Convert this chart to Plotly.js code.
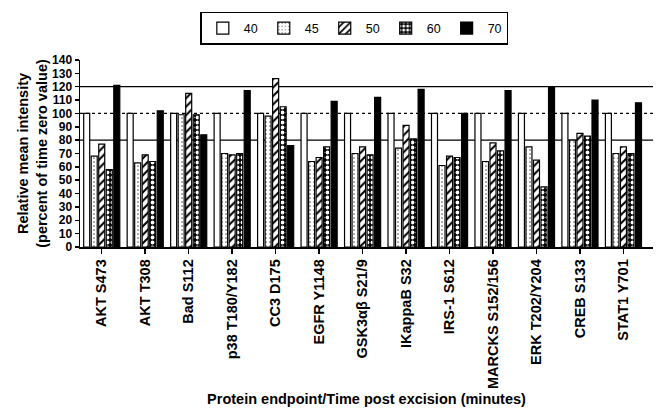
<!DOCTYPE html>
<html>
<head>
<meta charset="utf-8">
<script src="https://cdn.plot.ly/plotly-3.0.1.min.js"></script>
<style>html,body{margin:0;padding:0;background:#fff;}#chart{width:657px;height:413px;}</style>
</head>
<body>
<div id="chart"></div>
<script>
const categories = ["AKT S473","AKT T308","Bad S112","p38 T180/Y182","CC3 D175","EGFR Y1148","GSK3\u03b1\u03b2 S21/9","IKappaB S32","IRS-1 S612","MARCKS S152/156","ERK T202/Y204","CREB S133","STAT1 Y701"];
const seriesNames = ["40","45","50","60","70"];
const v40 = [100,100,100,100,100,100,100,100,100,100,100,100,100];
const v45 = [68,63,99,70,98,64,70,74,61,64,75,80,70];
const v50 = [77,69,115,69,126,67,75,91,68,78,65,85,75];
const v60 = [58,64,99,70,105,75,69,81,67,72,45,83,70];
const v70 = [121,102,84,117,76,109,112,118,100,117,120,110,108];
const refLines = [80,100,120];

const values = [v40,v45,v50,v60,v70];
const styles = [
  {color:"#ffffff", pattern:{shape:""}},
  {color:"#ffffff", pattern:{shape:".", fgcolor:"#666666", bgcolor:"#ffffff", size:4, solidity:0.15}},
  {color:"#ffffff", pattern:{shape:"/", fgcolor:"#000000", bgcolor:"#ffffff", size:6, solidity:0.35}},
  {color:"#000000", pattern:{shape:".", fgcolor:"#ffffff", bgcolor:"#000000", size:5, solidity:0.45}},
  {color:"#000000", pattern:{shape:""}}
];
const FONT = "Liberation Sans, Arial, sans-serif";

const traces = values.map((vals,i)=>({
  type:"bar",
  name:seriesNames[i],
  x:categories,
  y:vals,
  marker:{color:styles[i].color, pattern:styles[i].pattern, line:{color:"#000000", width:1.2}}
}));

const shapes = refLines.map(v=>({
  type:"line", xref:"paper", yref:"y", x0:0, x1:1, y0:v, y1:v, layer:"below",
  line:{color:"#000000", width:1.3, dash: v===100 ? "dot" : "solid"}
}));

const layout = {
  width:657, height:413,
  margin:{l:80, r:4, t:60, b:166},
  paper_bgcolor:"#ffffff", plot_bgcolor:"#ffffff",
  barmode:"group", bargap:0.135, bargroupgap:0.2,
  font:{family:FONT, color:"#000000"},
  showlegend:true,
  legend:{orientation:"h", x:0.21, xanchor:"left", y:1.257, yanchor:"top",
    bordercolor:"#000000", borderwidth:1.5, font:{family:FONT, size:12.5, color:"#000000"},
    itemwidth:32, traceorder:"normal"},
  xaxis:{
    type:"category", range:[-0.5, 12.68], showline:true, linecolor:"#000000", linewidth:1.5,
    ticks:"outside", ticklen:5, tickwidth:1.5, tickcolor:"#000000", tickangle:-90,
    tickfont:{family:FONT, size:14.5, color:"#000000", weight:"bold"},
    showgrid:false, zeroline:false,
    title:{text:"<b>Protein endpoint/Time post excision (minutes)</b>", font:{family:FONT, size:14.5}, standoff:6}
  },
  yaxis:{
    range:[0,140], dtick:10, showline:true, linecolor:"#000000", linewidth:1.5,
    ticks:"outside", ticklen:4, tickwidth:1.5, tickcolor:"#000000",
    tickfont:{family:FONT, size:12, color:"#000000", weight:"bold"},
    showgrid:false, zeroline:false,
    title:{text:"<b>Relative mean intensity<br>(percent of time zero value)</b>", font:{family:FONT, size:14.5}, standoff:1}
  },
  shapes:shapes
};

Plotly.newPlot("chart", traces, layout, {displayModeBar:false, staticPlot:true});
</script>
</body>
</html>
